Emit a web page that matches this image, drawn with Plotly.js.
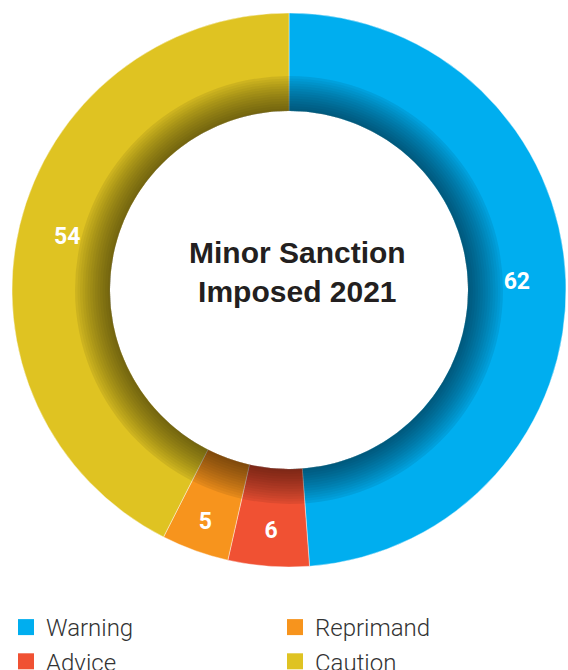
<!DOCTYPE html>
<html>
<head>
<meta charset="utf-8">
<script src="https://cdn.plot.ly/plotly-3.0.1.min.js"></script>
<style>
html,body{margin:0;padding:0;background:#fff;overflow:hidden;}
#chart{width:568px;height:670px;}
</style>
</head>
<body>
<div id="chart"></div>
<script>
// ---- data ----
var labels = ['Warning', 'Advice', 'Reprimand', 'Caution'];
var values = [62, 6, 5, 54];
var colors = ['#00aeef', '#f05133', '#f7941d', '#dfc322'];
var chartTitle = 'Minor Sanction<br>Imposed 2021';
var legendLeft = ['Warning', 'Advice'];
var legendRight = ['Reprimand', 'Caution'];

// ---- geometry (pixels) ----
var W = 568, H = 670;
var cx = 289, cy = 290, R = 277, rIn = 179, rShadow = 214;

function domainFor(r) {
  return {
    x: [(cx - r) / W, (cx + r) / W],
    y: [1 - (cy + r) / H, 1 - (cy - r) / H]
  };
}

var traces = [];
traces.push({
  type: 'pie',
  labels: labels,
  values: values,
  sort: false,
  direction: 'clockwise',
  rotation: 0,
  hole: rIn / R,
  domain: domainFor(R),
  marker: {colors: colors, line: {color: 'rgba(255,255,255,0.7)', width: 0.6}},
  textinfo: 'value',
  textposition: 'inside',
  insidetextorientation: 'horizontal',
  insidetextfont: {family: 'Roboto, Arial, sans-serif', size: 23, color: '#ffffff', weight: 'bold'},
  showlegend: false,
  hoverinfo: 'label+value'
});

// inner shadow rings (decoration)
var N = 14;
for (var k = 0; k < N; k++) {
  var r = rShadow - (rShadow - rIn) * k / N;
  traces.push({
    type: 'pie',
    labels: ['shadow'],
    values: [1],
    sort: false,
    hole: rIn / r,
    domain: domainFor(r),
    marker: {colors: [k === 0 ? 'rgba(0,0,0,0.08)' : 'rgba(0,0,0,0.038)'], line: {width: 0}},
    textinfo: 'none',
    hoverinfo: 'skip',
    showlegend: false
  });
}

// legend entries
function legendTrace(name, legendId) {
  var i = labels.indexOf(name);
  return {
    type: 'scatter', mode: 'markers', x: [null], y: [null],
    name: labels[i],
    marker: {symbol: 'square', size: 17, color: colors[i]},
    showlegend: true, legend: legendId, hoverinfo: 'skip'
  };
}
legendLeft.forEach(function (n) { traces.push(legendTrace(n, 'legend')); });
legendRight.forEach(function (n) { traces.push(legendTrace(n, 'legend2')); });

var legendFont = {family: 'Roboto, Arial, sans-serif', size: 24, color: '#333333', weight: 300};

var layout = {
  width: W, height: H,
  margin: {l: 0, r: 0, t: 0, b: 0, autoexpand: false},
  paper_bgcolor: '#ffffff',
  plot_bgcolor: 'rgba(0,0,0,0)',
  xaxis: {visible: false},
  yaxis: {visible: false},
  legend: {x: 6 / W, xanchor: 'left', y: 1 - 605 / H, yanchor: 'top', orientation: 'v',
           font: legendFont, bgcolor: 'rgba(0,0,0,0)', tracegroupgap: 0},
  legend2: {x: 275 / W, xanchor: 'left', y: 1 - 605 / H, yanchor: 'top', orientation: 'v',
            font: legendFont, bgcolor: 'rgba(0,0,0,0)', tracegroupgap: 0},
  annotations: [{
    text: chartTitle,
    xref: 'paper', yref: 'paper',
    x: 297 / W, y: 1 - 272 / H,
    xanchor: 'center', yanchor: 'middle',
    showarrow: false,
    font: {family: '"Liberation Sans", Arial, sans-serif', size: 30, color: '#231f20', weight: 'bold'}
  }]
};

Plotly.newPlot('chart', traces, layout, {displayModeBar: false, staticPlot: true});
</script>
</body>
</html>
